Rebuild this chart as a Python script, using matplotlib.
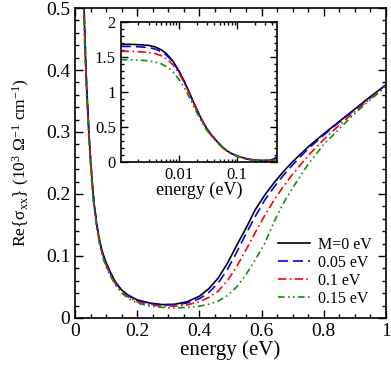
import matplotlib
matplotlib.use('Agg')
import matplotlib.pyplot as plt
import matplotlib.ticker as mticker
import numpy as np

plt.rcParams['font.family'] = 'Liberation Serif'
plt.rcParams['mathtext.fontset'] = 'custom'
plt.rcParams['mathtext.rm'] = 'Liberation Serif'
plt.rcParams['mathtext.it'] = 'Liberation Serif:italic'

#%% Data

energy = [0.001, 0.0015, 0.002, 0.003, 0.004, 0.005, 0.006, 0.007, 0.008, 0.01,
          0.012, 0.014, 0.017, 0.02, 0.024, 0.027, 0.03, 0.035, 0.04, 0.045,
          0.05, 0.055, 0.06, 0.07, 0.08, 0.09, 0.1, 0.115, 0.13, 0.15,
          0.17, 0.2, 0.24, 0.28, 0.32, 0.36, 0.4, 0.43, 0.46, 0.49,
          0.52, 0.55, 0.58, 0.61, 0.64, 0.67, 0.7, 0.75, 0.8, 0.85,
          0.9, 0.95, 1.0]

sig_m0 = [1.68, 1.68, 1.675, 1.665, 1.64, 1.60, 1.55, 1.49, 1.43, 1.30,
          1.17, 1.05, 0.89, 0.76, 0.62, 0.545, 0.48, 0.40, 0.345, 0.295,
          0.255, 0.22, 0.19, 0.15, 0.122, 0.103, 0.089, 0.072, 0.058, 0.045,
          0.037, 0.029, 0.024, 0.0215, 0.022, 0.026, 0.035, 0.047, 0.064, 0.088,
          0.117, 0.145, 0.175, 0.198, 0.218, 0.236, 0.252, 0.276, 0.297, 0.317,
          0.337, 0.357, 0.376]

sig_m005 = [1.65, 1.65, 1.645, 1.635, 1.61, 1.575, 1.53, 1.475, 1.42, 1.29,
            1.165, 1.045, 0.885, 0.755, 0.62, 0.545, 0.48, 0.40, 0.345, 0.295,
            0.255, 0.22, 0.19, 0.15, 0.121, 0.102, 0.088, 0.071, 0.057, 0.044,
            0.036, 0.028, 0.023, 0.021, 0.021, 0.024, 0.031, 0.041, 0.056, 0.078,
            0.106, 0.136, 0.164, 0.19, 0.211, 0.23, 0.247, 0.273, 0.295, 0.316,
            0.336, 0.356, 0.376]

sig_m01 = [1.58, 1.58, 1.575, 1.565, 1.545, 1.515, 1.475, 1.43, 1.38, 1.27,
           1.15, 1.03, 0.875, 0.745, 0.61, 0.535, 0.47, 0.393, 0.338, 0.29,
           0.25, 0.215, 0.186, 0.147, 0.118, 0.099, 0.085, 0.068, 0.055, 0.042,
           0.034, 0.026, 0.021, 0.019, 0.019, 0.021, 0.026, 0.033, 0.043, 0.06,
           0.083, 0.11, 0.138, 0.165, 0.19, 0.212, 0.232, 0.262, 0.288, 0.311,
           0.333, 0.354, 0.375]

sig_m015 = [1.46, 1.46, 1.455, 1.445, 1.425, 1.40, 1.365, 1.325, 1.28, 1.18,
            1.08, 0.975, 0.835, 0.715, 0.59, 0.515, 0.455, 0.38, 0.328, 0.282,
            0.243, 0.21, 0.182, 0.143, 0.115, 0.096, 0.082, 0.066, 0.053, 0.04,
            0.032, 0.024, 0.019, 0.017, 0.016, 0.017, 0.019, 0.022, 0.027, 0.036,
            0.05, 0.07, 0.094, 0.12, 0.155, 0.185, 0.21, 0.248, 0.28, 0.305,
            0.33, 0.352, 0.373]

labels = ['M=0 eV', '0.05 eV', '0.1 eV', '0.15 eV']
colors = ['black', '#0000ff', '#ff0000', '#009900']
dashes = [(None, None), (6, 3), (5, 2, 1, 2), (4, 2, 1, 2, 1, 2)]

series = [sig_m0, sig_m005, sig_m01, sig_m015]

#%% Plot

fig = plt.figure(figsize=(3.91, 3.65), dpi=100)
ax = fig.add_axes([0.192, 0.129, 0.795, 0.849])

for y, lab, c, d in zip(series, labels, colors, dashes):
    line, = ax.plot(energy, y, color=c, lw=1.2, label=lab)
    if d[0] is not None:
        line.set_dashes(d)

ax.set_xlim(0, 1)
ax.set_ylim(0, 0.5)
ax.xaxis.set_major_locator(mticker.MultipleLocator(0.2))
ax.xaxis.set_minor_locator(mticker.MultipleLocator(0.05))
ax.yaxis.set_major_locator(mticker.MultipleLocator(0.1))
ax.yaxis.set_minor_locator(mticker.MultipleLocator(0.02))
ax.xaxis.set_major_formatter(mticker.FuncFormatter(lambda v, p: '%g' % v))
ax.yaxis.set_major_formatter(mticker.FuncFormatter(lambda v, p: '%g' % v))
ax.tick_params(which='both', direction='in', top=True, right=True, labelsize=14, width=1)
ax.tick_params(which='major', length=6)
ax.tick_params(which='minor', length=3)
for s in ax.spines.values():
    s.set_linewidth(1.2)
ax.set_xlabel('energy (eV)', fontsize=15, labelpad=0)
ax.set_ylabel(r'Re{σ$_{\mathrm{xx}}$} (10$^{3}$ Ω$^{-1}$ cm$^{-1}$)', fontsize=12.5, labelpad=10)

ax.legend(loc='lower right', bbox_to_anchor=(1.0, -0.01), frameon=False, fontsize=11.5,
          handlelength=2.0, handletextpad=0.5, labelspacing=0.12)

# inset
axi = fig.add_axes([0.309, 0.556, 0.399, 0.384])
for y, c, d in zip(series, colors, dashes):
    line, = axi.plot(energy, y, color=c, lw=1.2)
    if d[0] is not None:
        line.set_dashes(d)

axi.set_xscale('log')
axi.set_xlim(0.001, 0.48)
axi.set_ylim(0, 2)
axi.set_xticks([0.01, 0.1])
axi.set_xticklabels(['0.01', '0.1'])
axi.xaxis.set_minor_locator(mticker.LogLocator(base=10, subs=np.arange(2, 10)))
axi.xaxis.set_minor_formatter(mticker.NullFormatter())
axi.yaxis.set_major_locator(mticker.MultipleLocator(0.5))
axi.yaxis.set_minor_locator(mticker.MultipleLocator(0.1))
axi.yaxis.set_major_formatter(mticker.FuncFormatter(lambda v, p: '%g' % v))
axi.tick_params(which='both', direction='in', top=True, right=True, labelsize=12, width=1)
axi.tick_params(which='major', length=5)
axi.tick_params(which='minor', length=2.5)
for s in axi.spines.values():
    s.set_linewidth(1.2)
axi.set_xlabel('energy (eV)', fontsize=13, labelpad=-1)

fig.savefig('out.png', dpi=100)
